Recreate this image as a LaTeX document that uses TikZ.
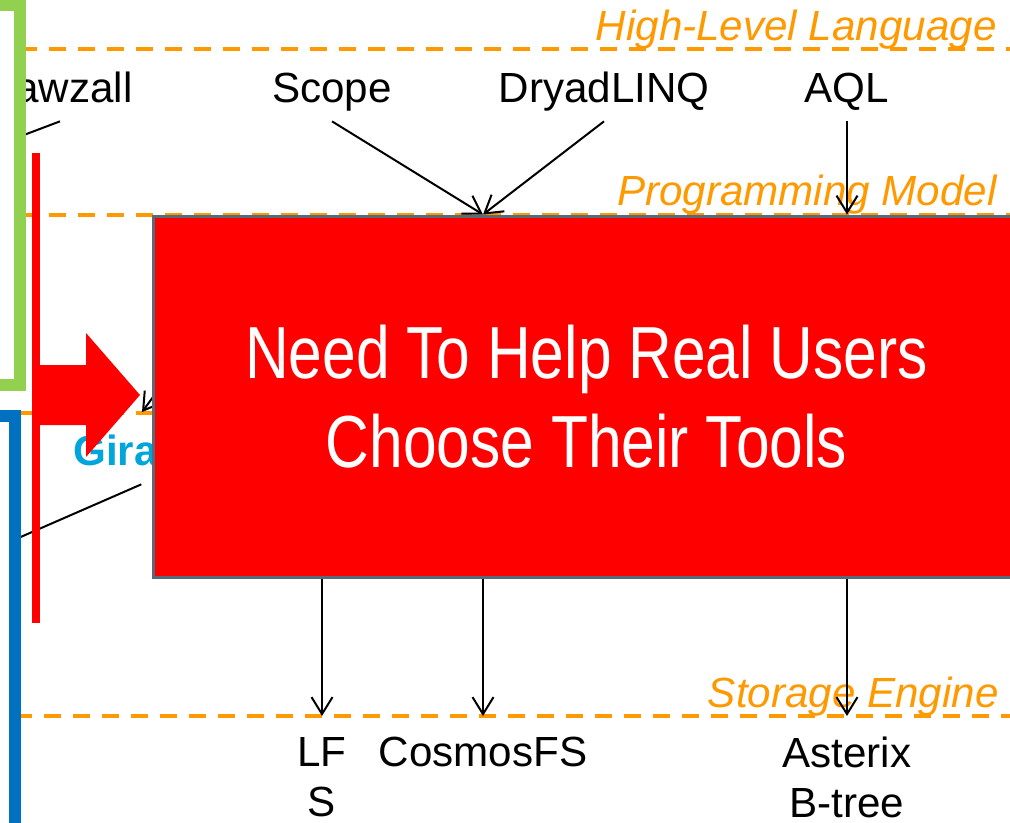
\documentclass[tikz,border=0pt]{standalone}
\usepackage{fontspec}
\setmainfont{Liberation Sans}
\newfontfamily\narrowfont[FakeStretch=0.82]{Liberation Sans}
\usetikzlibrary{arrows.meta, positioning}
\definecolor{layerorange}{RGB}{255,153,0}
\definecolor{barred}{RGB}{255,0,0}
\definecolor{bargreen}{RGB}{146,208,80}
\definecolor{barblue}{RGB}{0,112,192}
\definecolor{giraphcyan}{RGB}{0,166,219}
\definecolor{edgegray}{RGB}{90,105,120}

\begin{document}
\begin{tikzpicture}[
    x=0.02cm, y=-0.02cm,
    layer/.style={draw=layerorange, line width=0.08cm, dash pattern=on 0.34cm off 0.24cm},
    layername/.style={text=layerorange, font=\fontsize{24}{28.5}\selectfont\itshape, inner sep=0pt, anchor=base east},
    lang/.style={font=\fontsize{24}{28.5}\selectfont, inner xsep=0pt, inner ysep=0.2cm, text depth=0.18cm},
    store/.style={font=\fontsize{24}{28.5}\selectfont, align=center, inner xsep=0pt, inner ysep=0.42cm, anchor=north},
    arr/.style={line width=0.04cm, -{Straight Barb[length=0.34cm, width=0.42cm]}},
    wire/.style={line width=0.04cm},
    bracket/.style={fill=white, line width=0.24cm},
    bigbox/.style={fill=barred, draw=edgegray, line width=0.06cm, text=white, minimum width=17.34cm,
        minimum height=7.24cm, align=center, font=\narrowfont\fontsize{42}{50.6}\selectfont}
]
    \useasboundingbox (0,0) rectangle (1010,822);
    \clip (0,0) rectangle (1010,822);

    % layer lines
    \draw[layer] (20,49) -- (1010,49);
    \draw[layer] (20,215) -- (1010,215);
    \draw[layer] (20,413) -- (1010,413);
    \draw[layer] (15,716) -- (1010,716);
    \node[layername] (hll) at (997,40) {High-Level Language};
    \node[layername] (pm) at (997,205) {Programming Model};
    \node[layername] (se) at (999,707) {Storage Engine};

    % languages
    \node[lang, anchor=base east] (saw) at (133,102) {Sawzall};
    \node[lang, anchor=base] (scope) at (332,102) {Scope};
    \node[lang, anchor=base] (dryad) at (604,102) {DryadLINQ};
    \node[lang, anchor=base] (aql) at (847,102) {AQL};
    \node[lang, anchor=base west, text=giraphcyan, font=\fontsize{24}{28.5}\selectfont\bfseries] (giraph) at (73,465) {Giraph};

    % lines that run under the bars and the box
    \coordinate (sawend) at (0,144);
    \coordinate (giraphend) at (0,546);
    \coordinate (hidden) at (201,332);
    \coordinate (hiddentip) at (142,412);
    \draw[wire] (saw.south) -- (sawend);
    \draw[wire] (giraph.south) -- (giraphend);
    \draw[arr] (hidden) -- (hiddentip);

    % brackets and the big arrow
    \draw[bracket, draw=bargreen] (-60,5) rectangle (20,385);
    \draw[bracket, draw=barblue] (-60,416) rectangle (15,880);
    \fill[barred] (32,153) rectangle (40,623);
    \fill[barred] (40,365) -- (86,365) -- (86,333) -- (140,395) -- (86,457) -- (86,425) -- (40,425) -- cycle;

    % message box
    \node[bigbox] (msg) at (586.5,397) {Need To Help Real Users\\Choose Their Tools};

    % storage
    \node[store] (lfs) at (322,716) {LF\\S};
    \node[store] (cfs) at (483,716) {CosmosFS};
    \node[store] (ast) at (847,716) {Asterix\\B-tree};

    \draw[arr] (scope.south) -- (msg.north -| cfs);
    \draw[arr] (dryad.south) -- (msg.north -| cfs);
    \draw[arr] (aql.south) -- (msg.north -| aql);
    \draw[arr] (msg.south -| lfs) -- (lfs.north);
    \draw[arr] (msg.south -| cfs) -- (cfs.north);
    \draw[arr] (msg.south -| ast) -- (ast.north);
\end{tikzpicture}
\end{document}
